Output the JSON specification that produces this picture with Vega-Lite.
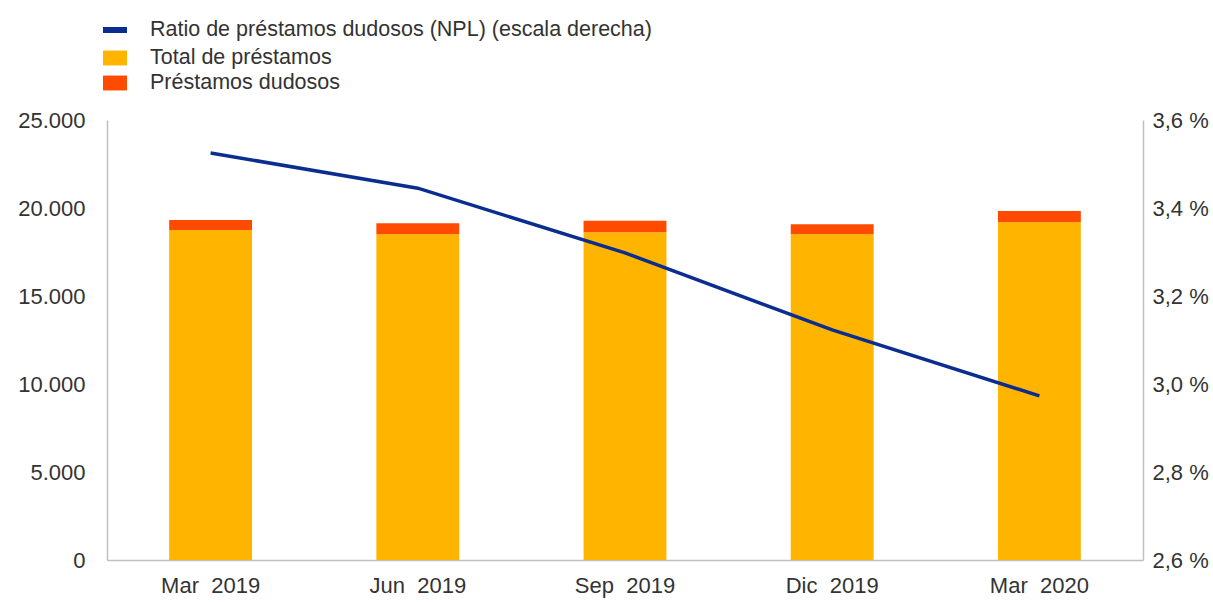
{
  "$schema": "https://vega.github.io/schema/vega-lite/v6.json",
  "width": 1036,
  "height": 440,
  "autosize": {"type": "none"},
  "padding": {"left": 107, "top": 120, "right": 70, "bottom": 42},
  "background": "white",
  "config": {
    "view": {"stroke": null},
    "font": "Liberation Sans",
    "axis": {
      "labelFont": "Liberation Sans",
      "labelColor": "#333333",
      "labelFontSize": 22,
      "domainColor": "#bfbfbf",
      "domainWidth": 1.5,
      "ticks": false,
      "grid": false,
      "title": null
    },
    "legend": {
      "labelFont": "Liberation Sans",
      "labelColor": "#333333",
      "labelFontSize": 21.5,
      "labelLimit": 0,
      "title": null,
      "padding": 0
    }
  },
  "datasets": {
    "prestamos": [
      {"periodo": "Mar 2019", "serie": "Total de préstamos", "orden": 1, "valor": 18750},
      {"periodo": "Mar 2019", "serie": "Préstamos dudosos", "orden": 2, "valor": 570},
      {"periodo": "Jun 2019", "serie": "Total de préstamos", "orden": 1, "valor": 18510},
      {"periodo": "Jun 2019", "serie": "Préstamos dudosos", "orden": 2, "valor": 620},
      {"periodo": "Sep 2019", "serie": "Total de préstamos", "orden": 1, "valor": 18620},
      {"periodo": "Sep 2019", "serie": "Préstamos dudosos", "orden": 2, "valor": 650},
      {"periodo": "Dic 2019", "serie": "Total de préstamos", "orden": 1, "valor": 18510},
      {"periodo": "Dic 2019", "serie": "Préstamos dudosos", "orden": 2, "valor": 560},
      {"periodo": "Mar 2020", "serie": "Total de préstamos", "orden": 1, "valor": 19190},
      {"periodo": "Mar 2020", "serie": "Préstamos dudosos", "orden": 2, "valor": 640}
    ],
    "ratio": [
      {"periodo": "Mar 2019", "serie": "Ratio de préstamos dudosos (NPL) (escala derecha)", "ratio": 3.525},
      {"periodo": "Jun 2019", "serie": "Ratio de préstamos dudosos (NPL) (escala derecha)", "ratio": 3.445},
      {"periodo": "Sep 2019", "serie": "Ratio de préstamos dudosos (NPL) (escala derecha)", "ratio": 3.298},
      {"periodo": "Dic 2019", "serie": "Ratio de préstamos dudosos (NPL) (escala derecha)", "ratio": 3.123},
      {"periodo": "Mar 2020", "serie": "Ratio de préstamos dudosos (NPL) (escala derecha)", "ratio": 2.973}
    ]
  },
  "layer": [
    {
      "data": {"name": "prestamos"},
      "mark": {"type": "bar"},
      "encoding": {
        "x": {
          "field": "periodo",
          "type": "nominal",
          "sort": ["Mar 2019", "Jun 2019", "Sep 2019", "Dic 2019", "Mar 2020"],
          "scale": {"paddingInner": 0.6, "paddingOuter": 0.3},
          "axis": {
            "labelAngle": 0,
            "labelPadding": 15,
            "labelExpr": "replace(datum.label, ' ', '\u00a0 ')"
          }
        },
        "y": {
          "field": "valor",
          "type": "quantitative",
          "stack": "zero",
          "scale": {"domain": [0, 25000]},
          "axis": {
            "values": [0, 5000, 10000, 15000, 20000, 25000],
            "labelExpr": "replace(format(datum.value, ','), ',', '.')",
            "labelPadding": 22
          }
        },
        "color": {
          "field": "serie",
          "type": "nominal",
          "scale": {
            "domain": ["Total de préstamos", "Préstamos dudosos"],
            "range": ["#FFB400", "#FF4B00"]
          },
          "legend": {
            "orient": "none",
            "legendX": -4,
            "legendY": -74,
            "symbolType": "M-1,-0.62H1V0.62H-1Z",
            "symbolSize": 576,
            "symbolStrokeWidth": 0,
            "labelOffset": 23,
            "rowPadding": 2
          }
        },
        "order": {"field": "orden", "type": "quantitative"}
      }
    },
    {
      "data": {"name": "ratio"},
      "mark": {"type": "line", "strokeWidth": 3.5},
      "encoding": {
        "x": {
          "field": "periodo",
          "type": "nominal",
          "sort": ["Mar 2019", "Jun 2019", "Sep 2019", "Dic 2019", "Mar 2020"]
        },
        "y": {
          "field": "ratio",
          "type": "quantitative",
          "scale": {"domain": [2.6, 3.6]},
          "axis": {
            "orient": "right",
            "values": [2.6, 2.8, 3.0, 3.2, 3.4, 3.6],
            "labelExpr": "replace(format(datum.value, '.1f'), '.', ',') + ' %'",
            "labelPadding": 9
          }
        },
        "stroke": {
          "field": "serie",
          "type": "nominal",
          "scale": {
            "domain": ["Ratio de préstamos dudosos (NPL) (escala derecha)"],
            "range": ["#0a2d8f"]
          },
          "legend": {
            "orient": "none",
            "legendX": -4,
            "legendY": -102,
            "symbolType": "M-1,-0.25H1V0.25H-1Z",
            "symbolSize": 576,
            "labelOffset": 23,
            "encode": {
              "symbols": {
                "update": {
                  "fill": {"value": "#0a2d8f"},
                  "strokeWidth": {"value": 0}
                }
              }
            }
          }
        }
      }
    }
  ],
  "resolve": {"scale": {"y": "independent", "color": "independent"}}
}
